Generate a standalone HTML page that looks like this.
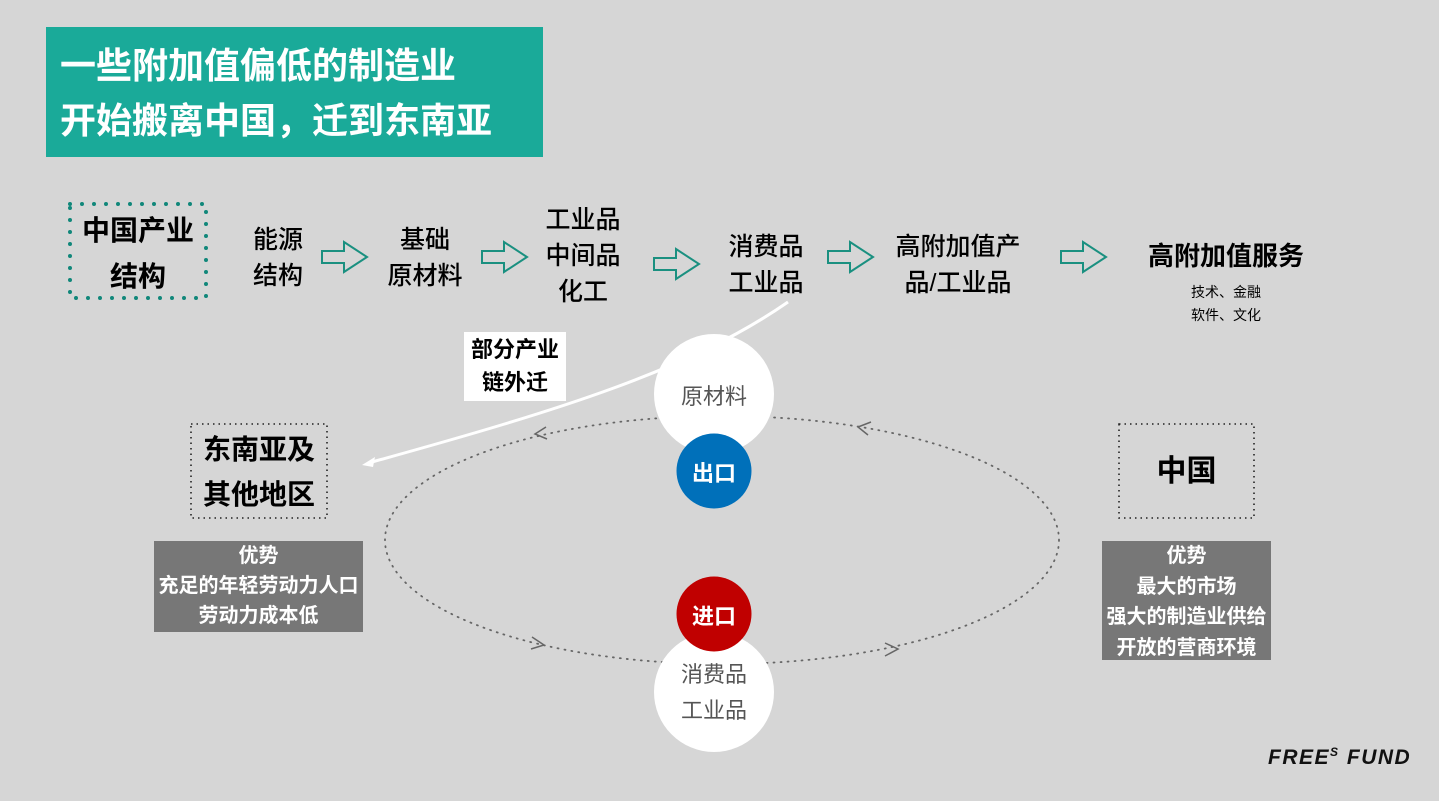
<!DOCTYPE html>
<html><head><meta charset="utf-8"><style>
body{margin:0;width:1439px;height:801px;background:#d6d6d6;position:relative;overflow:hidden;font-family:"Liberation Sans","Noto Sans CJK SC",sans-serif;}
.a{position:absolute;text-align:center;white-space:nowrap;}
.b{font-weight:bold;}
.m{font-weight:500;}
</style></head><body>
<div class="a b" style="left:46px;top:27px;width:497px;height:130px;background:#1aaa99;color:#fff;font-size:36px;line-height:55px;text-align:left;box-sizing:border-box;padding:11px 0 0 14px;">一些附加值偏低的制造业<br>开始搬离中国，迁到东南亚</div>

<svg width="1439" height="801" style="position:absolute;left:0;top:0">
<rect x="70" y="204" width="136" height="94" fill="none" stroke="#11877a" stroke-width="4" stroke-dasharray="0 12" stroke-linecap="round"/>
<g fill="none" stroke="#1a9080" stroke-width="2">
<path d="M322 251h22v-9l23 15-23 15v-9h-22z"/>
<path d="M482 251h22v-9l23 15-23 15v-9h-22z"/>
<path d="M654 258h22v-9l23 15-23 15v-9h-22z"/>
<path d="M828 251h22v-9l23 15-23 15v-9h-22z"/>
<path d="M1061 251h22v-9l23 15-23 15v-9h-22z"/>
</g>
<ellipse cx="722" cy="540" rx="337" ry="124" fill="none" stroke="#666" stroke-width="1.8" stroke-dasharray="1 6" stroke-linecap="round"/>
<g fill="none" stroke="#666" stroke-width="1.5">
<path d="M546 427l-11 7 12 5"/><path d="M871 422l-13 5 10 8"/>
<path d="M532 637l12 8-13 4"/><path d="M885 643l13 6-13 7"/>
</g>
<path d="M788 302C690 370 560 410 372 462" fill="none" stroke="#fff" stroke-width="3"/>
<path d="M362 465l13-8-2 10z" fill="#fff"/>
<circle cx="714" cy="394" r="60" fill="#fff"/>
<circle cx="714" cy="692" r="60" fill="#fff"/>
<circle cx="714" cy="471" r="37.5" fill="#0070ba"/>
<circle cx="714" cy="614" r="37.5" fill="#c00000"/>
<rect x="191" y="424" width="136" height="94" fill="none" stroke="#222" stroke-width="1.6" stroke-dasharray="1.5 4"/>
<rect x="1119" y="424" width="135" height="94" fill="none" stroke="#222" stroke-width="1.6" stroke-dasharray="1.5 4"/>
</svg>

<div class="a b" style="left:70px;top:208px;width:136px;font-size:28px;line-height:46px;">中国产业<br>结构</div>
<div class="a m" style="left:238px;top:222px;width:80px;font-size:25px;line-height:36px;">能源<br>结构</div>
<div class="a m" style="left:375px;top:222px;width:100px;font-size:25px;line-height:36px;">基础<br>原材料</div>
<div class="a m" style="left:533px;top:202px;width:100px;font-size:25px;line-height:36px;">工业品<br>中间品<br>化工</div>
<div class="a m" style="left:716px;top:229px;width:100px;font-size:25px;line-height:36px;">消费品<br>工业品</div>
<div class="a m" style="left:878px;top:229px;width:160px;font-size:25px;line-height:36px;">高附加值产<br>品/工业品</div>
<div class="a b" style="left:1136px;top:238px;width:180px;font-size:26px;line-height:36px;">高附加值服务</div>
<div class="a" style="left:1176px;top:281px;width:100px;font-size:14px;line-height:23px;">技术、金融<br>软件、文化</div>

<div class="a b" style="left:464px;top:332px;width:102px;height:69px;background:#fff;font-size:22px;line-height:33px;padding-top:1px;box-sizing:border-box;">部分产业<br>链外迁</div>

<div class="a" style="left:664px;top:379px;width:100px;font-size:22px;color:#555;">原材料</div>
<div class="a b" style="left:674px;top:456px;width:80px;font-size:22px;color:#fff;">出口</div>
<div class="a b" style="left:674px;top:599px;width:80px;font-size:22px;color:#fff;">进口</div>
<div class="a" style="left:664px;top:657px;width:100px;font-size:22px;color:#555;line-height:36px;">消费品<br>工业品</div>

<div class="a b" style="left:191px;top:427px;width:136px;font-size:28px;line-height:45px;">东南亚及<br>其他地区</div>
<div class="a b" style="left:1119px;top:450px;width:135px;font-size:30px;line-height:44px;">中国</div>

<div class="a b" style="left:154px;top:541px;width:209px;height:91px;background:#777;color:#fff;font-size:20px;line-height:30px;">优势<br>充足的年轻劳动力人口<br>劳动力成本低</div>
<div class="a b" style="left:1102px;top:541px;width:169px;height:119px;background:#777;color:#fff;font-size:20px;line-height:30.5px;">优势<br>最大的市场<br>强大的制造业供给<br>开放的营商环境</div>

<div class="a b" style="left:1268px;top:745px;font-size:21px;font-style:italic;letter-spacing:1.5px;color:#111;">FREE<sup style="font-size:12px;">S</sup> FUND</div>
</body></html>
